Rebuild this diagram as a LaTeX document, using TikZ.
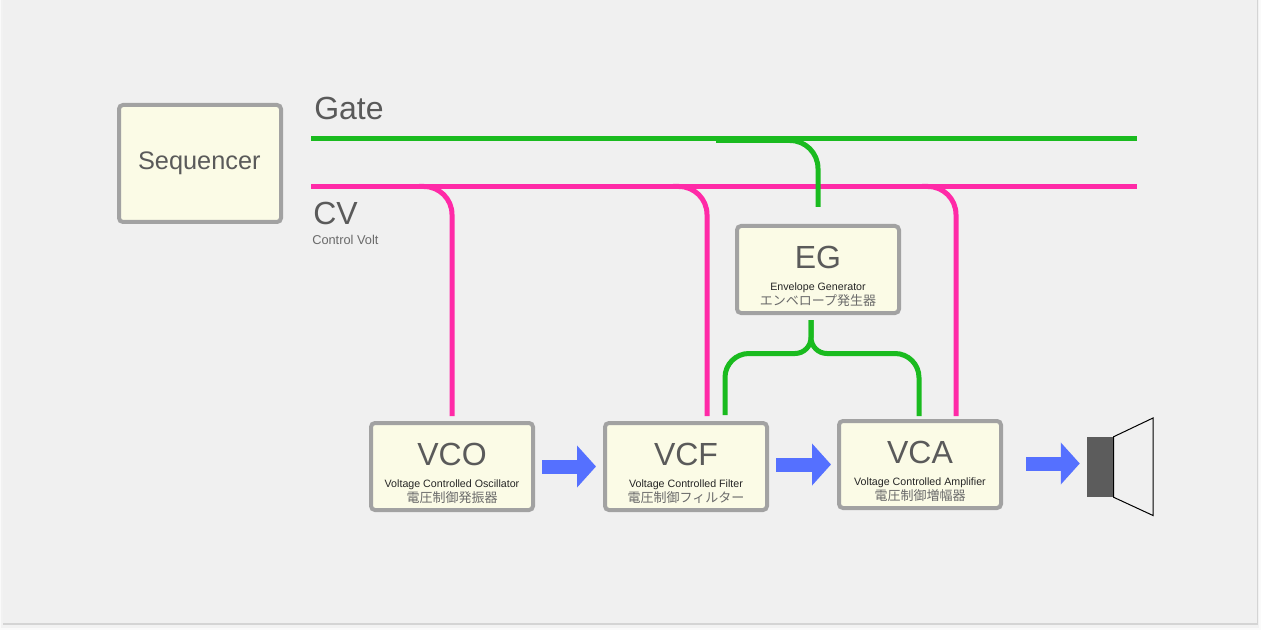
\documentclass[tikz,border=0pt]{standalone}
\usepackage{fontspec}
\setmainfont{Liberation Sans}
\newfontfamily\jpfont{Noto Sans CJK JP}
\usetikzlibrary{arrows.meta}
\definecolor{panelgray}{HTML}{F0F0F0}
\definecolor{boxfill}{HTML}{FBFBE6}
\definecolor{boxline}{HTML}{A2A2A2}
\definecolor{labelgray}{HTML}{5A5A5A}
\definecolor{jpgray}{HTML}{6A6A6A}
\definecolor{gategreen}{HTML}{1ABB1F}
\definecolor{cvpink}{HTML}{FF2AA7}
\definecolor{flowblue}{HTML}{5570FF}
\definecolor{speakergray}{HTML}{5C5C5C}
\newcommand{\titlesize}{\fontsize{24}{24}\selectfont}
\newcommand{\blocktext}[3]{{\titlesize\color{labelgray}\rule{0pt}{27pt}#1}\\[4.2pt]{\fontsize{8}{9}\selectfont\color{black!85}#2}\\[-0.5pt]{\fontsize{9.75}{11}\selectfont\jpfont\color{jpgray}#3}}
\tikzset{
	blockbox/.style={draw=boxline, fill=boxfill, line width=3pt, rounded corners=3pt, minimum width=121.5pt, minimum height=65.25pt, inner sep=0pt, align=center},
	gateline/.style={gategreen, line width=3.75pt},
	cvline/.style={cvpink, line width=3.75pt},
	flowarrow/.style={flowblue, line width=10.5pt, -{Triangle[length=14.25pt,width=30.75pt]}},
	biglabel/.style={anchor=base west, inner sep=0pt, text=labelgray, font=\titlesize}
}
\begin{document}
\begin{tikzpicture}[x=0.75pt,y=-0.75pt]
			\useasboundingbox (0,0) rectangle (1261,631);
			\fill[black!2] (0,0) rectangle (1261,630);
			\fill[black!5] (1,0) rectangle (1259,628);
			\fill[black!17] (3,0) rectangle (1258,625);
			\fill[panelgray] (3,0) rectangle (1257,622.5);
			\node[blockbox, minimum height=87.75pt, font=\fontsize{19}{20}\selectfont, text=labelgray] (sequencer) at (200,163.5) {Sequencer\hspace{1pt}};
			\node[blockbox] (eg) at (818,269.5) {\blocktext{EG}{Envelope Generator}{エンベロープ発生器}};
			\node[blockbox] (vco) at (452,466.5) {\blocktext{VCO}{Voltage Controlled Oscillator}{電圧制御発振器}};
			\node[blockbox] (vcf) at (686,466.5) {\blocktext{VCF}{Voltage Controlled Filter}{電圧制御フィルター}};
			\node[blockbox] (vca) at (920,464.5) {\blocktext{VCA}{Voltage Controlled Amplifier}{電圧制御増幅器}};
			\node[biglabel] (gatelabel) at (314,120) {Gate};
			\node[biglabel] (cvlabel) at (313,225) {CV};
			\node[anchor=base west, inner sep=0pt, text=jpgray, font=\fontsize{9.6}{10}\selectfont] (cvnote) at (312,245) {Control Volt};
			\node[fill=speakergray, minimum width=19.75pt, minimum height=45pt, inner sep=0pt] (speaker) at (1100.2,467) {};
			\coordinate (gatestart) at (311,138.5);
			\coordinate (gateend) at (1137,138.5);
			\coordinate (cvstart) at (311,186.5);
			\coordinate (cvend) at (1137,186.5);
			\coordinate (gatetap) at (716,140.5);
			\coordinate (egin) at ([yshift=12.75pt]eg.north);
			\coordinate (egout) at ([xshift=-5.25pt,yshift=-3.75pt]eg.south);
			\coordinate (egsplit) at (811,353.5);
			\coordinate (vcogate) at (419,186.5);
			\coordinate (vcfgate) at (673,186.5);
			\coordinate (vcagate) at (922,186.5);
			\coordinate (vcoin) at ([yshift=3.75pt]vco.north);
			\coordinate (vcfin) at ([xshift=15.75pt,yshift=3.75pt]vco.north -| vcf.north);
			\coordinate (vcfeg) at ([xshift=29.25pt,yshift=4.5pt]vcf.north);
			\coordinate (vcaeg) at ([xshift=-0.75pt,yshift=2.25pt]vca.north);
			\coordinate (vcain) at ([xshift=27pt,yshift=2.25pt]vca.north);
			\draw[gateline] (gatestart) -- (gateend);
			\draw[cvline] (cvstart) -- (cvend);
			\draw[gateline, rounded corners=21pt] (gatetap) -| (egin);
			\draw[cvline, rounded corners=21pt] (vcogate) -| (vcoin);
			\draw[cvline, rounded corners=21pt] (vcfgate) -| (vcfin);
			\draw[cvline, rounded corners=21pt] (vcagate) -| (vcain);
			\draw[gateline, rounded corners=12pt] (egout) -- (egsplit) [rounded corners=18pt] -- (egsplit -| vcfeg) -- (vcfeg);
			\draw[gateline, rounded corners=12pt] (egout) -- (egsplit) [rounded corners=18pt] -- (egsplit -| vcaeg) -- (vcaeg);
			\draw[flowarrow] ([xshift=5.25pt]vco.east) -- ([xshift=-5.25pt]vcf.west);
			\draw[flowarrow] ([xshift=5.25pt]vcf.east |- vca.west) -- ([xshift=-4.5pt]vca.west);
			\draw[flowarrow] ([xshift=17.25pt,yshift=0.75pt]vca.east) -- ([xshift=-5.25pt,yshift=0.75pt]vca.east -| speaker.west);
			\draw[black, line width=0.75pt, fill=panelgray] (speaker.north east) -- (1153,418) -- (1153,515.5) -- (speaker.south east) -- cycle;
			\end{tikzpicture}
\end{document}
